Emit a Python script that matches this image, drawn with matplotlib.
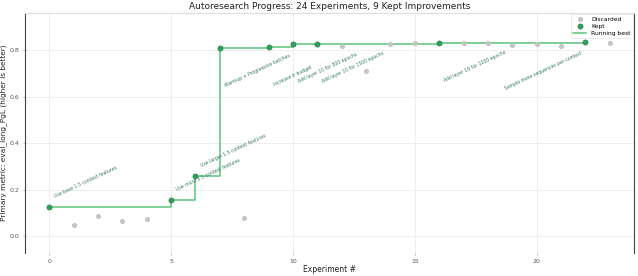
import matplotlib
matplotlib.use("Agg")
import matplotlib.pyplot as plt
import numpy as np

# Data
experiments = list(range(24))
metric = [0.125, 0.047, 0.086, 0.063, 0.072, 0.156, 0.259, 0.810, 0.077, 0.814,
          0.827, 0.828, 0.820, 0.710, 0.827, 0.830, 0.831, 0.830, 0.830, 0.823,
          0.826, 0.818, 0.834, 0.830]
kept_flags = [1, 0, 0, 0, 0, 1, 1, 1, 0, 1,
              1, 1, 0, 0, 0, 0, 1, 0, 0, 0,
              0, 0, 1, 0]
kept_labels = {
    0: "Use base 1.5 context features",
    5: "Use more 1.5 context features",
    6: "Use larger 1.5 context features",
    7: "Warmup + Progressive batches",
    9: "Increase lr budget",
    10: "Add layer 10 for 800 epochs",
    11: "Add layer 10 for 1500 epochs",
    16: "Add layer 16 for 1000 epochs",
    22: "Sample more sequences per context",
}

green = "#2e9e5b"
line_green = "#5cc47a"
gray = "#c4c4c4"

x = np.array(experiments)
y = np.array(metric)
k = np.array(kept_flags, dtype=bool)

fig = plt.figure(figsize=(6.38, 2.76), dpi=100)
ax = fig.add_axes([0.039, 0.083, 0.955, 0.870])

# running best
kx = x[k]
ky = y[k]
ax.step(kx, np.maximum.accumulate(ky), where="post", color=line_green, lw=1.1,
        label="Running best", zorder=2)
ax.scatter(x[~k], y[~k], s=7, color=gray, label="Discarded", zorder=3)
ax.scatter(kx, ky, s=14, color=green, edgecolors="#1f7a44", linewidths=0.4,
           label="Kept", zorder=4)

for xi, yi in zip(kx, ky):
    txt = kept_labels[int(xi)]
    if yi < 0.5:
        ax.annotate(txt, (xi, yi), xytext=(4, 8), textcoords="offset pixels",
                    ha="left", va="bottom", rotation=25, fontsize=3.3,
                    color="#3a7d5c")
    elif xi >= 20:
        ax.annotate(txt, (xi, yi), xytext=(-3, -8), textcoords="offset pixels",
                    ha="right", va="top", rotation=25, fontsize=3.3,
                    color="#3a7d5c")
    else:
        ax.annotate(txt, (xi, yi), xytext=(4, -40), textcoords="offset pixels",
                    ha="left", va="bottom", rotation=25, fontsize=3.3,
                    color="#3a7d5c")

ax.set_xlim(-1, 24)
ax.set_ylim(-0.073, 0.96)
ax.set_xticks([0, 5, 10, 15, 20])
ax.set_yticks([0.0, 0.2, 0.4, 0.6, 0.8])
ax.set_yticklabels(["0.0", "0.2", "0.4", "0.6", "0.8"])
ax.grid(True, color="#ebebeb", lw=0.6)
ax.set_axisbelow(True)
ax.tick_params(labelsize=4.5, labelcolor="#555555", length=1.5, width=0.4,
               color="#888888", pad=2.5)

for s in ["left", "right"]:
    ax.spines[s].set_color("#444444")
    ax.spines[s].set_linewidth(0.8)
ax.spines["top"].set_color("#dddddd")
ax.spines["top"].set_linewidth(0.8)
ax.spines["bottom"].set_visible(False)

ax.set_title("Autoresearch Progress: 24 Experiments, 9 Kept Improvements",
             fontsize=6.5, color="#222222", pad=3)
ax.set_xlabel("Experiment #", fontsize=5.5, color="#222222", labelpad=1)
ax.set_ylabel("Primary metric: eval_long_PgL (higher is better)", fontsize=5.3,
              color="#222222", labelpad=1.5)

handles, labels = ax.get_legend_handles_labels()
order = [labels.index("Discarded"), labels.index("Kept"), labels.index("Running best")]
leg = ax.legend([handles[i] for i in order], [labels[i] for i in order],
                loc="upper right", fontsize=4.3, frameon=True, borderpad=0.4,
                handlelength=2.2, labelspacing=0.3, borderaxespad=0.2)
leg.get_frame().set_edgecolor("#dddddd")
leg.get_frame().set_linewidth(0.5)

fig.savefig("out.png", dpi=100)
